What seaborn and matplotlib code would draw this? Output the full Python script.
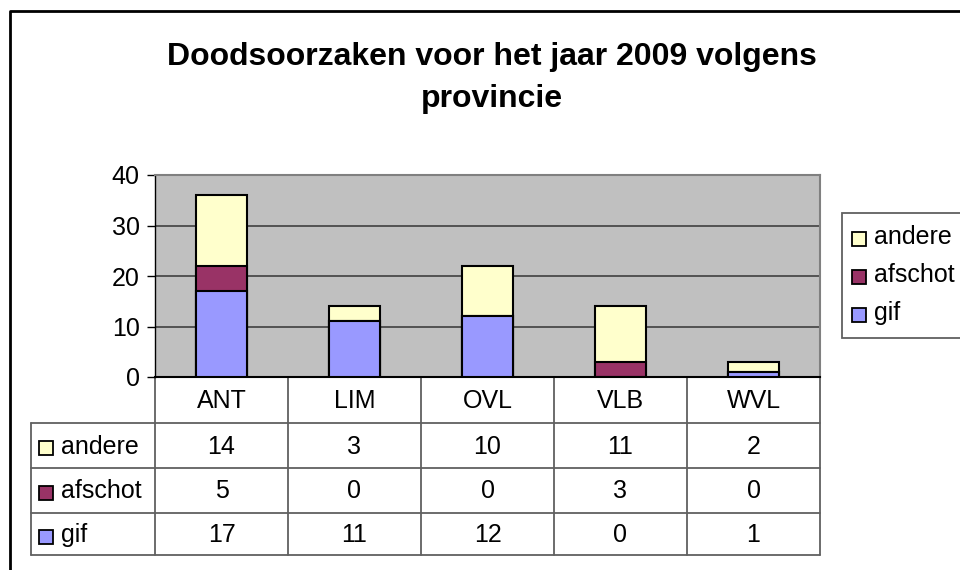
import numpy as np
import pandas as pd
import matplotlib
matplotlib.use('Agg')
import matplotlib.pyplot as plt
import seaborn as sns

# Data
provincies = ['ANT', 'LIM', 'OVL', 'VLB', 'WVL']
gif = [17, 11, 12, 0, 1]
afschot = [5, 0, 0, 3, 0]
andere = [14, 3, 10, 11, 2]
series = ['andere', 'afschot', 'gif']
kleuren = {'gif': '#9999FF', 'afschot': '#993366', 'andere': '#FFFFCC'}
titel = 'Doodsoorzaken voor het jaar 2009 volgens\nprovincie'

sns.set_style('white')
plt.rcParams['font.family'] = ['Liberation Sans', 'DejaVu Sans']
plt.rcParams['text.color'] = 'black'
plt.rcParams['ytick.color'] = 'black'
plt.rcParams['xtick.color'] = 'black'

FS = 18

W, H = 960, 570
fig = plt.figure(figsize=(W / 100, H / 100), dpi=100)

# pixel layout
px_l, px_r, px_t, px_b = 155, 820, 175, 377

def px_rect(l, t, r, b):
    return [l / W, 1 - b / H, (r - l) / W, (b - t) / H]

# overlay axes in pixel coordinates for frame, table and legend
ov = fig.add_axes([0, 0, 1, 1])
ov.set_xlim(0, W)
ov.set_ylim(H, 0)
ov.axis('off')

# chart frame
ov.plot([10, 10, W + 5], [H + 5, 11, 11], color='black', lw=2, solid_capstyle='butt')

# bars
ax = fig.add_axes(px_rect(px_l, px_t, px_r, px_b))
ax.set_facecolor('#C0C0C0')

df = pd.DataFrame({'provincie': provincies, 'gif': gif, 'afschot': afschot, 'andere': andere})
df['tot_afschot'] = df['gif'] + df['afschot']
df['tot_andere'] = df['tot_afschot'] + df['andere']

for kol, serie in [('tot_andere', 'andere'), ('tot_afschot', 'afschot'), ('gif', 'gif')]:
    sns.barplot(data=df, x='provincie', y=kol, color=kleuren[serie], width=0.39,
                edgecolor='black', linewidth=1.5, saturation=1, ax=ax, zorder=3)

ax.set_ylim(0, 40)
ax.set_xlim(-0.5, len(provincies) - 0.5)
ax.set_yticks([0, 10, 20, 30, 40])
ax.yaxis.grid(True, color='#404040', lw=1.2)
ax.set_axisbelow(True)
ax.set_xlabel('')
ax.set_ylabel('')
ax.set_xticks([])
ax.tick_params(axis='y', direction='out', length=6, width=1, color='black',
               labelsize=FS, pad=5, left=True, labelcolor='black')
for s in ['top', 'right']:
    ax.spines[s].set_color('#808080')
    ax.spines[s].set_linewidth(1.5)
ax.spines['left'].set_color('black')
ax.spines['left'].set_linewidth(1)
ax.spines['bottom'].set_color('black')
ax.spines['bottom'].set_linewidth(1.5)

# title
ov.text(492, 78, titel, ha='center', va='center', fontsize=23, fontweight='bold',
        linespacing=1.5, color='black')

# data table
col_x = np.linspace(px_l, px_r, len(provincies) + 1)
row_y = [377, 423, 468, 513, 555]
lijn = dict(color='#606060', lw=1.3)
tab_left = 31
for x in col_x:
    ov.plot([x, x], [row_y[0], row_y[-1]], **lijn)
ov.plot([tab_left, tab_left], [row_y[1], row_y[-1]], **lijn)
for y in row_y[1:]:
    ov.plot([tab_left, px_r], [y, y], **lijn)

for i, p in enumerate(provincies):
    cx = (col_x[i] + col_x[i + 1]) / 2
    ov.text(cx, (row_y[0] + row_y[1]) / 2 + 1, p, ha='center', va='center', fontsize=FS)

waarden = {'gif': gif, 'afschot': afschot, 'andere': andere}
for r, serie in enumerate(series):
    cy = (row_y[r + 1] + row_y[r + 2]) / 2 + 1
    ov.add_patch(plt.Rectangle((39, cy - 5.5), 14, 14, facecolor=kleuren[serie],
                               edgecolor='black', lw=1.3))
    ov.text(61, cy, serie, ha='left', va='center', fontsize=FS)
    for i, v in enumerate(waarden[serie]):
        cx = (col_x[i] + col_x[i + 1]) / 2
        ov.text(cx, cy, str(v), ha='center', va='center', fontsize=FS)

# legend
ov.add_patch(plt.Rectangle((842, 213), 130, 125, facecolor='white',
                           edgecolor='#606060', lw=1.3))
for k, serie in enumerate(series):
    cy = 237 + k * 38
    ov.add_patch(plt.Rectangle((852, cy - 5.5), 14, 14, facecolor=kleuren[serie],
                               edgecolor='black', lw=1.3))
    ov.text(874, cy, serie, ha='left', va='center', fontsize=FS)

fig.savefig('out.png', dpi=100)
